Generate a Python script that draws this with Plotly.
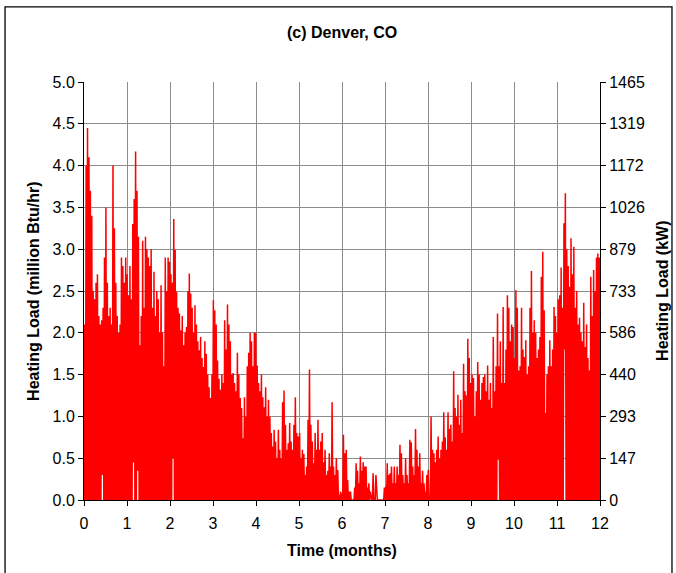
import plotly.graph_objects as go

# Daily peak heating load, million Btu/hr, one list per month
jan = [2.1, 4.0, 4.45, 4.1, 3.7, 3.4, 2.5, 2.4, 2.6, 2.7, 2.2, 2.1, 2.15, 2.3, 2.9, 3.5,
       2.6, 2.2, 2.3, 2.1, 4.0, 3.25, 2.6, 2.2, 2.0, 2.1, 2.9, 2.8, 2.6, 2.9, 2.7]
feb = [2.45, 2.8, 2.4, 3.3, 3.6, 4.17, 3.7, 3.15, 1.85, 2.2, 3.1, 2.3, 3.15, 3.0, 2.9,
       2.8, 3.0, 2.3, 2.73, 2.2, 2.5, 2.4, 2.0, 2.57, 2.0, 1.6, 2.9, 2.5]
mar = [2.9, 2.85, 2.7, 2.6, 3.36, 2.99, 2.49, 2.3, 2.23, 2.03, 2.2, 1.85, 2.0, 2.07, 2.5,
       2.71, 2.47, 2.3, 2.0, 2.33, 2.1, 1.9, 1.79, 1.95, 1.7, 1.59, 1.9, 1.75, 1.5, 1.35, 1.22]
apr = [1.5, 2.39, 2.27, 2.1, 1.67, 1.45, 1.32, 1.5, 1.4, 2.15, 1.8, 2.34, 2.1, 1.9, 1.5,
       1.52, 1.4, 1.3, 1.76, 1.5, 1.22, 1.1, 0.74, 1.23, 1.0, 1.6, 1.76, 2.0, 1.9, 1.6]
may = [2.0, 2.0, 1.61, 1.4, 1.3, 1.5, 1.23, 1.11, 1.35, 1.0, 1.2, 1.0, 0.8, 0.64, 0.84,
       0.7, 0.5, 0.84, 0.6, 0.5, 1.17, 1.31, 0.9, 0.6, 0.68, 0.92, 0.7, 0.6, 0.9, 1.23, 0.8]
jun = [0.76, 0.8, 0.5, 0.6, 0.55, 0.3, 0.4, 0.96, 1.56, 0.9, 0.7, 0.44, 0.8, 0.6, 0.96,
       0.6, 0.7, 0.8, 0.45, 0.6, 0.3, 0.35, 0.56, 0.4, 1.17, 0.4, 0.3, 0.5, 0.36, 0.06]
jul = [0.1, 0.08, 0.78, 0.56, 0.6, 0.24, 0.1, 0.1, 0.0, 0.0, 0.15, 0.44, 0.35, 0.2, 0.52,
       0.35, 0.45, 0.4, 0.4, 0.15, 0.2, 0.1, 0.0, 0.32, 0.0, 0.3, 0.0, 0.0, 0.0, 0.0, 0.0]
aug = [0.15, 0.16, 0.44, 0.3, 0.32, 0.4, 0.2, 0.4, 0.2, 0.4, 0.3, 0.66, 0.56, 0.3, 0.2,
       0.5, 0.3, 0.2, 0.72, 0.69, 0.4, 0.3, 0.85, 0.6, 0.4, 0.56, 0.2, 0.35, 0.2, 0.1, 0.3]
sep = [0.36, 0.05, 1.0, 0.6, 0.56, 0.45, 0.6, 0.76, 0.5, 0.6, 0.7, 1.05, 0.75, 0.6, 1.05,
       0.85, 0.9, 0.7, 1.54, 1.1, 1.0, 1.26, 0.9, 1.2, 0.8, 1.63, 1.3, 1.25, 1.93, 1.7]
oct = [1.4, 1.5, 1.46, 1.0, 1.3, 1.65, 1.5, 1.2, 1.4, 1.47, 1.5, 1.3, 1.61, 1.2, 1.4,
       1.1, 1.95, 1.3, 1.6, 2.23, 1.6, 1.9, 1.4, 2.31, 1.4, 1.8, 2.45, 2.3, 1.9, 2.1, 2.07]
nov = [1.7, 2.51, 2.3, 1.55, 1.6, 2.3, 1.8, 1.71, 1.91, 1.5, 1.6, 2.3, 2.74, 2.0, 2.15,
       2.0, 1.7, 1.8, 1.95, 2.67, 2.97, 2.27, 1.04, 1.5, 1.6, 1.91, 1.6, 1.8, 2.31, 2.2]
dec = [2.0, 2.4, 2.45, 2.78, 2.3, 3.31, 3.67, 3.0, 2.8, 2.55, 3.13, 2.7, 3.03, 2.3, 2.5,
       2.1, 2.18, 2.0, 1.9, 2.36, 1.83, 2.1, 1.7, 1.55, 2.67, 2.2, 2.75, 2.5, 2.9, 2.95, 2.9]

# Overnight minimum load (million Btu/hr) on the days it did not fall to zero
night_min_day = [13, 35, 38, 63, 293, 340]
night_min_val = [0.3, 0.45, 0.35, 0.5, 0.48, 1.8]

BTU_TO_KW = 293.07          # 1 million Btu/hr in kW
left_ticks = [0.0, 0.5, 1.0, 1.5, 2.0, 2.5, 3.0, 3.5, 4.0, 4.5, 5.0]
month_ticks = list(range(13))

daily_peak = jan + feb + mar + apr + may + jun + jul + aug + sep + oct + nov + dec
n_days = len(daily_peak)
night_min = dict(zip(night_min_day, night_min_val))

t, load = [], []
for d, peak in enumerate(daily_peak):
    t += [d * 12 / n_days, (d + 0.5) * 12 / n_days]
    load += [night_min.get(d, 0.0), peak]
t.append(12.0)
load.append(0.0)

FONT = "Liberation Sans, Arial, sans-serif"
GRID = "#8c8c8c"
TICK_SIZE = 16
TITLE_SIZE = 16

fig = go.Figure()
fig.add_trace(go.Scatter(x=t, y=load, mode="lines",
                         line=dict(color="#ff0000", width=1.5),
                         hoverinfo="skip", showlegend=False))
# invisible trace so the kW axis is drawn
fig.add_trace(go.Scatter(x=[0, 12], y=[0, 5 * BTU_TO_KW], yaxis="y2", mode="lines",
                         line=dict(width=0), opacity=0, hoverinfo="skip", showlegend=False))

fig.update_layout(
    width=676, height=573,
    margin=dict(l=84, r=76, t=82, b=73),
    paper_bgcolor="white", plot_bgcolor="white",
    font=dict(family=FONT, size=TICK_SIZE, color="black"),
    xaxis=dict(range=[0, 12], tickvals=month_ticks, showgrid=True, gridcolor=GRID, gridwidth=1,
               zeroline=False, showline=True, linecolor="black", linewidth=1,
               ticks="outside", ticklen=5, tickcolor="black", tickfont=dict(size=TICK_SIZE),
               ticklabelstandoff=4),
    yaxis=dict(range=[0, 5], tickvals=left_ticks, tickformat=".1f", showgrid=True,
               gridcolor=GRID, gridwidth=1, zeroline=False, showline=True,
               linecolor="black", linewidth=1, ticks="outside", ticklen=5,
               tickcolor="black", tickfont=dict(size=TICK_SIZE)),
    yaxis2=dict(range=[0, 5 * BTU_TO_KW], overlaying="y", side="right",
                tickvals=[v * BTU_TO_KW for v in left_ticks],
                ticktext=[f"{v * BTU_TO_KW:.0f}" for v in left_ticks],
                showgrid=False, zeroline=False, showline=True, linecolor="black",
                linewidth=1, ticks="outside", ticklen=5, tickcolor="black",
                tickfont=dict(size=TICK_SIZE)),
    shapes=[dict(type="rect", xref="paper", yref="paper", x0=-0.153, x1=1.1395,
                 y0=-0.2, y1=1.1795, line=dict(color="black", width=1.3), layer="below")],
    annotations=[
        dict(text="<b>(c) Denver, CO</b>", xref="paper", yref="paper", x=0.5, y=1.118,
             showarrow=False, font=dict(size=TITLE_SIZE), xanchor="center", yanchor="middle"),
        dict(text="<b>Time (months)</b>", xref="paper", yref="paper", x=0.5, y=-0.122,
             showarrow=False, font=dict(size=TITLE_SIZE), xanchor="center", yanchor="middle"),
        dict(text="<b>Heating Load (million Btu/hr)</b>", xref="paper", yref="paper",
             x=-0.099, y=0.5, textangle=-90, showarrow=False, font=dict(size=TITLE_SIZE),
             xanchor="center", yanchor="middle"),
        dict(text="<b>Heating Load (kW)</b>", xref="paper", yref="paper",
             x=1.12, y=0.5, textangle=-90, showarrow=False, font=dict(size=TITLE_SIZE),
             xanchor="center", yanchor="middle"),
    ],
)

fig.write_html("out.html")
